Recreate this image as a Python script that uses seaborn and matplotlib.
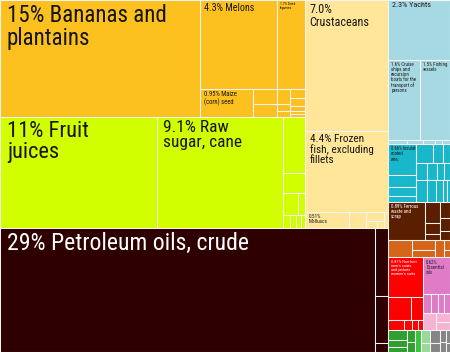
import matplotlib
matplotlib.use("Agg")
import matplotlib.pyplot as plt
import seaborn as sns
from matplotlib import font_manager
from matplotlib.font_manager import FontProperties
from matplotlib.textpath import TextToPath

# ---------------- data (share of exports, %) ----------------
veg_labels = ["15% Bananas and\nplantains", "4.3% Melons", "1.7% Dried\nlegumes",
              "0.95% Maize\n(corn) seed", "", "", "", "", "", "", "", "", "", ""]
veg_values = [14.77, 4.33, 1.57, 0.94, 0.23, 0.19, 0.12, 0.06, 0.05, 0.09, 0.07, 0.05, 0.03, 0.03]

food_labels = ["11% Fruit\njuices", "9.1% Raw\nsugar, cane", "", "", "", "", "", "", "", ""]
food_values = [11.0, 8.83, 0.78, 0.28, 0.2, 0.1, 0.06, 0.05, 0.04, 0.03]

animal_labels = ["7.0%\nCrustaceans", "4.4% Frozen\nfish, excluding\nfillets", "0.51%\nMolluscs",
                 "", "", "", "", ""]
animal_values = [6.86, 4.24, 0.45, 0.17, 0.1, 0.05, 0.03, 0.04]

mineral_labels = ["29% Petroleum oils, crude", "", "", ""]
mineral_values = [29.4, 0.55, 0.38, 0.07]

transport_labels = ["2.3% Yachts",
                    "1.6% Cruise\nships and\nexcursion\nboats for the\ntransport of\npersons",
                    "1.5% Fishing\nvessels", "", "", "", "", ""]
transport_values = [2.35, 1.62, 1.52, 0.05, 0.04, 0.03, 0.02, 0.02]

machine_labels = ["0.66% Insulated\ncoated\nwire,"] + [""] * 15
machine_values = [0.55, 0.2, 0.16, 0.12, 0.2, 0.13, 0.08, 0.12, 0.1, 0.08, 0.06,
                  0.15, 0.12, 0.1, 0.06, 0.04]

metal_labels = ["0.89% Ferrous\nwaste and\nscrap", "", "", "", "", "", ""]
metal_values = [0.89, 0.2, 0.1, 0.06, 0.1, 0.08, 0.06]

orange_labels = [""] * 6
orange_values = [0.26, 0.14, 0.11, 0.09, 0.04, 0.03]

red_labels = ["0.87% Non-knit\nmen's coats\nand jackets\nwomen's suits", "", "", "", "", "", ""]
red_values = [0.88, 0.33, 0.17, 0.1, 0.05, 0.04, 0.03]

pink_labels = ["0.62%\nEssential\noils", "", "", "", ""]
pink_values = [0.63, 0.1, 0.08, 0.07, 0.07]

lpink_labels = ["", "", ""]
lpink_values = [0.14, 0.08, 0.07]

dgreen_labels = [""] * 5
dgreen_values = [0.12, 0.08, 0.06, 0.06, 0.05]
bgreen_labels = [""]
bgreen_values = [0.09]
lgreen_labels = ["", ""]
lgreen_values = [0.07, 0.05]

gray_labels = [""] * 6
gray_values = [0.08, 0.06, 0.05, 0.04, 0.03, 0.02]

# ---------------- styles ----------------
GROUPS = {
    "veg": (veg_labels, veg_values, "#FDC11F", "#161616"),
    "food": (food_labels, food_values, "#D2FF00", "#161616"),
    "animal": (animal_labels, animal_values, "#FFE699", "#161616"),
    "mineral": (mineral_labels, mineral_values, "#2E0000", "#FFFFFF"),
    "transport": (transport_labels, transport_values, "#A7D9E4", "#1a1a1a"),
    "machine": (machine_labels, machine_values, "#19B7CB", "#1a1a1a"),
    "metal": (metal_labels, metal_values, "#5A1F00", "#FFFFFF"),
    "orange": (orange_labels, orange_values, "#D6651A", "#FFFFFF"),
    "red": (red_labels, red_values, "#FF0000", "#FFFFFF"),
    "pink": (pink_labels, pink_values, "#E07BC8", "#222222"),
    "lpink": (lpink_labels, lpink_values, "#F6B4D4", "#222222"),
    "dgreen": (dgreen_labels, dgreen_values, "#2FA02F", "#FFFFFF"),
    "bgreen": (bgreen_labels, bgreen_values, "#3CC43C", "#FFFFFF"),
    "lgreen": (lgreen_labels, lgreen_values, "#9BD99B", "#FFFFFF"),
    "gray": (gray_labels, gray_values, "#858585", "#FFFFFF"),
}

# nominal sizes for a narrow (Arial-Narrow-like) face; rescaled below
FONT_SIZES = {
    ("veg", 0): 17, ("veg", 1): 7.4, ("veg", 2): 2.7, ("veg", 3): 4.9,
    ("food", 0): 16.5, ("food", 1): 12.8,
    ("animal", 0): 9, ("animal", 1): 8.3, ("animal", 2): 3.9,
    ("mineral", 0): 17.5,
    ("transport", 0): 6.0, ("transport", 1): 3.6, ("transport", 2): 3.6,
    ("machine", 0): 3.4, ("metal", 0): 3.6, ("red", 0): 3.2, ("pink", 0): 3.6,
}


def L(g, i):
    return ("leaf", g, i)


def cols(*ch):
    return ("cols", list(ch))


def rows(*ch):
    return ("rows", list(ch))


veg = cols(L("veg", 0),
           rows(cols(L("veg", 1), L("veg", 2)),
                cols(L("veg", 3), rows(L("veg", 4), L("veg", 5)),
                     rows(L("veg", 6), L("veg", 7), L("veg", 8)),
                     rows(*[L("veg", i) for i in range(9, 14)]))))
food = cols(L("food", 0), L("food", 1),
            rows(L("food", 2), L("food", 3), cols(L("food", 4), L("food", 5)),
                 cols(*[L("food", i) for i in range(6, 10)])))
animal = rows(L("animal", 0), L("animal", 1),
              cols(L("animal", 2), L("animal", 3),
                   rows(L("animal", 4), cols(L("animal", 5), L("animal", 6))), L("animal", 7)))
mineral = cols(L("mineral", 0), rows(L("mineral", 1), L("mineral", 2), L("mineral", 3)))
transport = rows(L("transport", 0), cols(L("transport", 1), L("transport", 2)),
                 cols(*[L("transport", i) for i in range(3, 8)]))
machine = cols(rows(*[L("machine", i) for i in range(0, 4)]),
               rows(cols(*[L("machine", i) for i in range(4, 7)]),
                    cols(*[L("machine", i) for i in range(7, 11)]),
                    cols(*[L("machine", i) for i in range(11, 16)])))
metal = cols(L("metal", 0), rows(L("metal", 1), L("metal", 2), L("metal", 3)),
             rows(L("metal", 4), L("metal", 5), L("metal", 6)))
orange = cols(L("orange", 0), rows(L("orange", 1), L("orange", 2)), L("orange", 3),
              rows(L("orange", 4), L("orange", 5)))
red = rows(L("red", 0), cols(L("red", 1), L("red", 2)),
           cols(*[L("red", i) for i in range(3, 7)]))
pink = rows(L("pink", 0), cols(*[L("pink", i) for i in range(1, 5)]),
            cols(L("lpink", 0), rows(L("lpink", 1), L("lpink", 2))))
bottom = cols(rows(L("dgreen", 0), L("dgreen", 1), L("dgreen", 2)),
              rows(L("dgreen", 3), L("dgreen", 4)), L("bgreen", 0),
              rows(L("lgreen", 0), L("lgreen", 1)),
              rows(L("gray", 0), L("gray", 1)), rows(L("gray", 2), L("gray", 3)),
              rows(L("gray", 4), L("gray", 5)))
right = rows(transport, machine, metal, orange, cols(red, pink), bottom)
root = cols(rows(cols(rows(veg, food), animal), mineral), right)


def total(node):
    if node[0] == "leaf":
        return GROUPS[node[1]][1][node[2]]
    return sum(total(c) for c in node[1])


def layout(node, x, y, w, h, out):
    if node[0] == "leaf":
        out.append((node[1], node[2], x, y, w, h))
        return
    t = total(node)
    pos = 0.0
    for c in node[1]:
        frac = total(c) / t
        if node[0] == "cols":
            layout(c, x + pos * w, y, frac * w, h, out)
        else:
            layout(c, x, y + pos * h, w, frac * h, out)
        pos += frac


# ---------------- font choice (prefer a narrow face) ----------------
sns.set_theme(style="white")
plt.rcParams["font.family"] = ["DejaVu Sans"]


def pick_font():
    pref = ["liberation sans narrow", "roboto condensed", "open sans condensed",
            "noto sans condensed", "noto sans semicondensed", "dejavu sans condensed",
            "noto sans", "dejavu sans"]
    found = {}
    for f in font_manager.fontManager.ttflist:
        fn = f.fname.lower().replace("-", "").replace("_", "").replace(" ", "")
        base = fn.split("/")[-1]
        if any(k in base for k in ("bold", "italic", "oblique", "light", "thin", "black",
                                    "medium", "mono", "serif", "extra", "ultra", "semibold")):
            continue
        if "liberationsansnarrow" in base:
            found.setdefault("liberation sans narrow", f.fname)
        elif "robotocondensed" in base:
            found.setdefault("roboto condensed", f.fname)
        elif "opensanscondensed" in base or ("opensans" in base and "condensed" in base):
            found.setdefault("open sans condensed", f.fname)
        elif "notosans" in base and "semicondensed" in base and "cjk" not in base:
            found.setdefault("noto sans semicondensed", f.fname)
        elif "notosans" in base and "condensed" in base and "cjk" not in base:
            found.setdefault("noto sans condensed", f.fname)
        elif "dejavusanscondensed" in base:
            found.setdefault("dejavu sans condensed", f.fname)
    for p in pref:
        if p in found:
            return FontProperties(fname=found[p])
    return FontProperties(family="DejaVu Sans")


base_prop = pick_font()
# calibrate: "15% Bananas and" at nominal 17 should be ~160 px wide
_p = base_prop.copy()
_p.set_size(17)
_w, _h, _d = TextToPath().get_text_width_height_descent("15% Bananas and", _p, ismath=False)
scale = 160.0 / (_w * 100.0 / 72.0)

W, H = 450.0, 352.0
fig = plt.figure(figsize=(4.5, 3.52), dpi=100)
ax = fig.add_axes([0, 0, 1, 1])
ax.set_xlim(0, W)
ax.set_ylim(H, 0)
ax.axis("off")

cells = []
layout(root, 0, 0, W, H, cells)
for g, i, x, y, w, h in cells:
    labels, values, color, tcolor = GROUPS[g]
    bars = ax.bar(x, h, width=w, bottom=y, align="edge", color=color,
                  edgecolor="#F4F4F4", linewidth=0.75)
    lab = labels[i]
    if lab:
        fs = FONT_SIZES.get((g, i), 3) * scale
        p = base_prop.copy()
        p.set_size(fs)
        t = ax.annotate(lab, xy=(x, y), xytext=(fs * 0.2 + 1.6, -(fs * 0.1 + 1.2)),
                        textcoords="offset points", ha="left", va="top",
                        fontproperties=p, color=tcolor, linespacing=1.0)
        t.set_clip_path(bars.patches[0])

fig.savefig("out.png", dpi=100)
